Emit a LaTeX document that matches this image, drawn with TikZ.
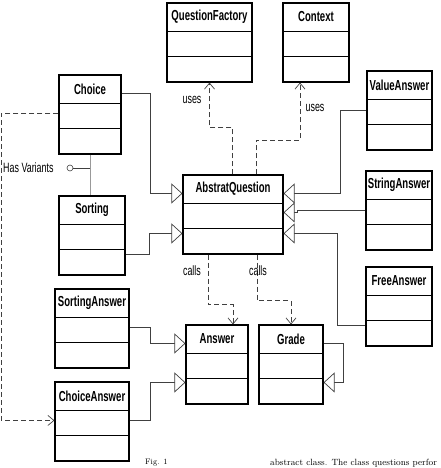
\documentclass[tikz,border=0pt]{standalone}
\usepackage{fontspec}
\setsansfont{Liberation Sans}[FakeStretch=0.66]
\usetikzlibrary{arrows.meta,fit}

\tikzset{
  caja/.style={draw=black, line width=1.1pt, inner sep=0pt},
  borde/.style={draw=black, line width=1.1pt},
  titulo/.style={font=\sffamily\bfseries\fontsize{14.5}{16}\selectfont, inner sep=0pt},
  etiqueta/.style={font=\sffamily\fontsize{13.5}{15}\selectfont, inner sep=0pt},
  conector/.style={draw=black!75, line width=0.7pt},
  hereda/.style={conector, -{Triangle[open, length=11pt, width=20pt, fill=white]}},
  usa/.style={conector, dash pattern=on 5pt off 3pt, -{Straight Barb[length=6pt, width=10pt]}}
}

% clase UML: nombre, titulo, x izquierda, y arriba, x derecha
\newcommand{\clase}[5]{%
  \node[caja, fit={(#3,#4) (#5,{#4+79})}] (#1) {};
  \draw[borde] ([yshift=-29pt]#1.north west) -- ([yshift=-29pt]#1.north east);
  \draw[borde] ([yshift=-54pt]#1.north west) -- ([yshift=-54pt]#1.north east);
  \node[titulo] (#1t) at ([yshift=-14.5pt]#1.north) {#2};
}

\begin{document}
\begin{tikzpicture}[x=1pt, y=-1pt]
  \useasboundingbox (0,0) rectangle (440,468);
  % Clases del modelo de preguntas
  \clase{qf}{QuestionFactory}{167}{3}{252}
  \clase{ctx}{Context}{283}{3}{349}
  \clase{ch}{Choice}{59}{75}{121}
  \clase{va}{ValueAnswer}{367}{71}{432}
  \clase{aq}{AbstratQuestion}{183}{175}{283}
  \clase{sa}{StringAnswer}{366}{171}{432}
  \clase{so}{Sorting}{59}{196}{125}
  \clase{fa}{FreeAnswer}{366}{267}{432}
  \clase{sans}{SortingAnswer}{55}{289}{129}
  \clase{an}{Answer}{186}{325}{248}
  \clase{gr}{Grade}{259}{325}{323}
  \clase{cans}{ChoiceAnswer}{55}{382}{129}

  % Herencia hacia AbstratQuestion
  \draw[hereda] ([yshift=-19pt]ch.north east) -- ++(29,0) |- ([yshift=-19pt]aq.north west);
  \draw[hereda] ([yshift=-59pt]so.north east) -- ++(24,0) |- ([yshift=-59pt]aq.north west);
  \draw[hereda] ([yshift=-40pt]va.north west) -- ++(-26,0) |- ([yshift=-19pt]aq.north east);
  \draw[hereda] ([yshift=-40pt]sa.north west) -- ++(-68,0) |- ([yshift=-38pt]aq.north east);
  \draw[hereda] ([yshift=-59pt]fa.north west) -- ++(-28,0) |- ([yshift=-59pt]aq.north east);

  % Herencia hacia Answer y Grade
  \draw[hereda] ([yshift=-39pt]sans.north east) -- ++(21,0) |- ([yshift=-19pt]an.north west);
  \draw[hereda] ([yshift=-39pt]cans.north east) -- ++(21,0) |- ([yshift=-58pt]an.north west);
  \draw[hereda] ([yshift=-19pt]gr.north east) -- ++(20,0) |- ([yshift=-58pt]gr.north east);

  % Dependencias
  \draw[usa] ([xshift=50pt]aq.north west) -- ++(0,-47) -| (qf.south);
  \draw[usa] ([xshift=74pt]aq.north west) -- ++(0,-34) -| ([xshift=-16pt]ctx.south);
  \draw[usa] ([xshift=26pt]aq.south west) -- ++(0,50) -| ([xshift=16pt]an.north);
  \draw[usa] ([xshift=75pt]aq.south west) -- ++(0,46) -| (gr.north);
  \draw[usa] ([yshift=-39pt]ch.north west) -- ++(-57,0) |- ([yshift=-39pt]cans.north west);
  \node[etiqueta] (u1) at (192,100) {uses};
  \node[etiqueta] (u2) at (315,108) {uses};
  \node[etiqueta] (c1) at (192,271) {calls};
  \node[etiqueta] (c2) at (258,271) {calls};

  % Variantes de Choice
  \draw[draw=black!40, line width=0.7pt] (ch.south) -- (ch.south |- so.north);
  \coordinate (hvc) at (90,168);
  \node[circle, draw=black!75, line width=0.6pt, inner sep=0pt, minimum size=6pt] (circ) at (70,168) {};
  \draw[conector] (hvc) -- (circ.east);
  \node[etiqueta, anchor=west] (hv) at (3,168) {Has Variants};

  % Restos de la pagina
  \node[anchor=north west, font=\fontsize{8}{9}\selectfont, inner sep=0pt] (fig) at (145,459) {Fig. 1};
  \node[anchor=north west, font=\fontsize{9}{10}\selectfont, inner sep=0pt] (txt) at (270,459) {abstract class. The class questions perfor};
\end{tikzpicture}
\end{document}
